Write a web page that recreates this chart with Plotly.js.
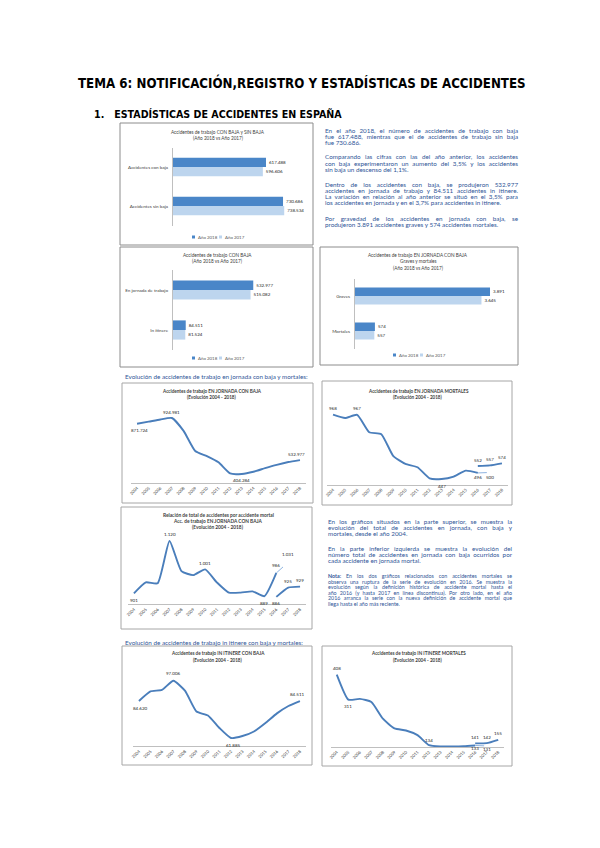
<!DOCTYPE html>
<html><head><meta charset="utf-8">
<script src="https://cdn.plot.ly/plotly-3.0.1.min.js"></script>
<style>html,body{margin:0;padding:0;background:#fff}</style>
</head><body><div id="chart" style="width:600px;height:848px"></div>
<script>
// ---------- DATA ----------
const years = ['2004','2005','2006','2007','2008','2009','2010','2011','2012','2013','2014','2015','2016','2017','2018'];
const yearsOld = ['2004','2005','2006','2007','2008','2009','2010','2011','2012','2013','2014','2015','2016'];
const yearsDash = ['2016','2017'];
const yearsNew = ['2016','2017','2018'];
const seriesNames = ['Año 2018','Año 2017'];

const cat1 = ['Accidentes con baja','Accidentes sin baja'];
const total2018 = [617488, 730686];
const total2017 = [596606, 738534];

const cat2 = ['En jornada de trabajo','In itinere'];
const conBaja2018 = [532977, 84511];
const conBaja2017 = [515082, 81524];

const cat3 = ['Graves','Mortales'];
const gravedad2018 = [3891, 574];
const gravedad2017 = [3645, 557];

const jornadaBaja = [871724, 890872, 911561, 924981, 804959, 617440, 569523, 512584, 408537, 404284, 424625, 458023, 489065, 515082, 532977];
const jornadaMort = [968, 941, 967, 826, 810, 632, 569, 542, 452, 447, 467, 515, 496];
const jornadaMortDash = [496, 500];
const jornadaMortNueva = [552, 557, 574];
const ratio = [901, 947, 943, 1120, 994, 977, 1001, 946, 904, 904, 909, 889, 986];
const ratioDash = [986, 1031];
const ratioNueva = [886, 925, 929];
const itinereBaja = [84620, 90500, 91400, 97006, 90900, 78100, 75700, 68000, 61885, 63100, 65900, 71100, 77000, 81524, 84511];
const itinereMort = [408, 311, 314, 302, 237, 199, 191, 173, 134, 129, 129, 130, 133];
const itinereMortDash = [133, 131];
const itinereMortNueva = [141, 142, 155];

// ---------- STYLE / HELPERS ----------
const W = 600, H = 848;
const px = v => v / W, py = v => 1 - v / H;
const C18 = '#4a86c8', C17 = '#bdd5ee', CL = '#4a7ebb', CD = '#8fb4e0';
const TXT = '#2f5597';
const FONT = 'Lato, "Open Sans", sans-serif';
const fmt = v => String(v).replace(/\B(?=(\d{3})+(?!\d))/g, '.');

const layout = {
  width: W, height: H, margin: {l:0, r:0, t:0, b:0},
  paper_bgcolor: '#ffffff', plot_bgcolor: 'rgba(0,0,0,0)',
  showlegend: false, separators: ',.', barmode: 'group', bargap: 0.52, bargroupgap: 0,
  font: {family: FONT, color: '#404040'},
  shapes: [], annotations: []
};
const traces = [];
const justify = {};   // plain line text -> target width in px

function note(x, y, text, size, opts) {
  layout.annotations.push(Object.assign({xref:'paper', yref:'paper', x: px(x), y: py(y), text: text,
    showarrow:false, xanchor:'center', yanchor:'middle', font:{size:size, family:FONT, color:'#404040'}}, opts || {}));
}
function box(x0, y0, x1, y1, col) {
  layout.shapes.push({type:'rect', xref:'paper', yref:'paper', x0:px(x0), x1:px(x1), y0:py(y1), y1:py(y0),
    line:{color: col || '#a6a6a6', width:1}, fillcolor:'rgba(0,0,0,0)', layer:'below'});
}
function legendRow(x, y) {
  const items = [[C18, seriesNames[0]], [C17, seriesNames[1]]];
  let cx = x;
  items.forEach(([c, t]) => {
    layout.shapes.push({type:'rect', xref:'paper', yref:'paper', x0:px(cx), x1:px(cx+3), y0:py(y+1.5), y1:py(y-1.5), line:{width:0}, fillcolor:c});
    note(cx + 4, y, t, 4.4, {xanchor:'left', font:{size:4.4, family:FONT, color:'#595959'}});
    cx += 27;
  });
}
function paragraph(lines, x, y0, step, size, width) {
  lines.forEach((t, i) => {
    note(x, y0 + i * step, t, size, {xanchor:'left', align:'left', font:{size:size, family:FONT, color:TXT}});
    if (i < lines.length - 1) justify[t.replace(/<[^>]+>/g, '')] = width;
  });
}
function barChart(n, cats, v18, v17, xL, xR, yT, yB, xmax) {
  const xa = n === 1 ? 'x' : 'x' + n, ya = n === 1 ? 'y' : 'y' + n;
  const xk = n === 1 ? 'xaxis' : 'xaxis' + n, yk = n === 1 ? 'yaxis' : 'yaxis' + n;
  layout[xk] = {domain:[px(xL), px(xR)], range:[0, xmax], visible:false, anchor:ya, fixedrange:true};
  layout[yk] = {domain:[py(yB), py(yT)], type:'category', autorange:'reversed', showline:true, linecolor:'#bfbfbf', linewidth:1,
    ticks:'', showgrid:false, zeroline:false, tickfont:{size:4.6, color:'#404040', family:FONT}, ticklabelstandoff:3, anchor:xa, fixedrange:true};
  [[v18, C18, seriesNames[0]], [v17, C17, seriesNames[1]]].forEach(([vals, col, nm]) => {
    traces.push({type:'bar', orientation:'h', x: vals, y: cats, name: nm, xaxis: xa, yaxis: ya,
      marker:{color: col}, texttemplate:'%{x:,.0f}', textposition:'outside', constraintext:'none', cliponaxis:false,
      textfont:{size:4.5, color:'#262626', family:FONT}, hoverinfo:'skip'});
  });
}
function lineAxes(n, xL, xR, yT, yB, ymin, ymax) {
  layout['xaxis'+n] = {domain:[px(xL), px(xR)], type:'category', range:[-0.5, 14.5], showline:true, linecolor:'#bfbfbf', linewidth:1,
    ticks:'', tickangle:-45, tickfont:{size:4.2, color:'#404040', family:FONT}, showgrid:false, zeroline:false, anchor:'y'+n, fixedrange:true};
  layout['yaxis'+n] = {domain:[py(yB), py(yT)], range:[ymin, ymax], visible:false, anchor:'x'+n, fixedrange:true};
}
function line(n, xs, ys, dashed) {
  traces.push({type:'scatter', mode:'lines', x: xs, y: ys, xaxis:'x'+n, yaxis:'y'+n, cliponaxis:false,
    line: dashed ? {color: CD, width: 1, dash:'dash'} : {color: CL, width: 1.9, shape:'spline', smoothing:0.5}, hoverinfo:'skip'});
}
// data label: category given by its year string, placed by its index on the category axis
function dl(n, year, value, shift, dx) {
  layout.annotations.push({xref:'x'+n, yref:'y'+n, x: years.indexOf(year), y: value, text: fmt(value), showarrow:false,
    yshift: shift, xshift: dx || 0, font:{size:4.5, color:'#262626', family:FONT}});
}

// ---------- PAGE HEADINGS ----------
const NARROW = '"Liberation Sans Narrow", "DejaVu Sans Condensed", "Arial Narrow", sans-serif';
note(302, 82, '<b>TEMA 6: NOTIFICACIÓN,REGISTRO Y ESTADÍSTICAS DE ACCIDENTES</b>', 13.2, {font:{size:13.2, family:NARROW, color:'#000'}});
note(92, 114, '<b>1.   ESTADÍSTICAS DE ACCIDENTES EN ESPAÑA</b>', 10.6, {xanchor:'left', font:{size:10.6, family:NARROW, color:'#000'}});

// ---------- CHART 1 ----------
box(120, 123, 313, 245, '#8c8c8c');
note(218, 131.5, 'Accidentes de trabajo CON BAJA y SIN BAJA', 4.7);
note(218, 137.5, '(Año 2018 vs Año 2017)', 4.7);
barChart(1, cat1, total2018, total2017, 173, 301, 147.5, 225.5, 850000);
legendRow(192, 237);

// ---------- TEXT BLOCK 1 ----------
paragraph(['En el año 2018, el número de accidentes de trabajo con baja',
  'fue 617.488, mientras que el de accidentes de trabajo sin baja',
  'fue 730.686.'], 323, 130, 6.1, 6.3, 193);
paragraph(['Comparando las cifras con las del año anterior, los accidentes',
  'con baja experimentaron un aumento del 3,5% y los accidentes',
  'sin baja un descenso del 1,1%.'], 323, 157, 6.1, 6.3, 193);
paragraph(['Dentro de los accidentes con baja, se produjeron 532.977',
  'accidentes en jornada de trabajo y 84.511 accidentes in itinere.',
  'La variación en relación al año anterior se situó en el 3,5% para',
  'los accidentes en jornada y en el 3,7% para accidentes in itinere.'], 323, 184, 6.1, 6.3, 193);
paragraph(['Por gravedad de los accidentes en jornada con baja, se',
  'produjeron 3.891 accidentes graves y 574 accidentes mortales.'], 323, 218.5, 6.1, 6.3, 193);

// ---------- CHART 2 ----------
box(120, 247, 313, 367, '#8c8c8c');
note(217, 255, 'Accidentes de trabajo CON BAJA', 4.7);
note(217, 261, '(Año 2018 vs Año 2017)', 4.7);
barChart(2, cat2, conBaja2018, conBaja2017, 173, 301, 270, 350, 850000);
legendRow(192, 358);

// ---------- CHART 3 ----------
box(320, 247, 518, 365, '#8c8c8c');
note(418, 255, 'Accidentes de trabajo EN JORNADA CON BAJA', 4.7);
note(418, 261.5, 'Graves y mortales', 4.7);
note(418, 268, '(Año 2018 vs Año 2017)', 4.7);
barChart(3, cat3, gravedad2018, gravedad2017, 355, 505, 278.5, 348.5, 4323);
legendRow(393, 355);

// ---------- HEADING 2 ----------
note(123, 376, 'Evolución de accidentes de trabajo en jornada con baja y mortales:', 6.3, {xanchor:'left', font:{size:6.3, family:FONT, color:TXT}});

// ---------- CHART 4 ----------
box(122, 383, 313, 503);
note(212, 391, '<b>Accidentes de trabajo EN JORNADA CON BAJA</b>', 4.6);
note(212, 397, '<b>(Evolución 2004 - 2018)</b>', 4.6);
lineAxes(4, 131.2, 305.8, 405, 483, 320000, 1046000);
line(4, years, jornadaBaja);
dl(4, '2004', jornadaBaja[0], -7, 2);
dl(4, '2007', jornadaBaja[3], 6);
dl(4, '2013', jornadaBaja[9], -7);
dl(4, '2018', jornadaBaja[14], 6, -3);

// ---------- CHART 5 ----------
box(322, 381, 512, 505);
note(418, 391, '<b>Accidentes de trabajo EN JORNADA MORTALES</b>', 4.6);
note(418, 397, '<b>(Evolución 2004 - 2018)</b>', 4.6);
lineAxes(5, 327, 508, 398.4, 484.8, 400, 1100);
line(5, yearsOld, jornadaMort);
line(5, yearsDash, jornadaMortDash, true);
line(5, yearsNew, jornadaMortNueva);
dl(5, '2004', jornadaMort[0], 6);
dl(5, '2006', jornadaMort[2], 6);
dl(5, '2013', jornadaMort[9], -7);
dl(5, '2016', jornadaMortDash[0], -5);
dl(5, '2017', jornadaMortDash[1], -5);
dl(5, '2016', jornadaMortNueva[0], 6);
dl(5, '2017', jornadaMortNueva[1], 6);
dl(5, '2018', jornadaMortNueva[2], 6);

// ---------- CHART 6 ----------
box(121, 507, 312, 629);
note(218, 515, '<b>Relación de total de accidentes por accidente mortal</b>', 4.8);
note(218, 521, '<b>Acc. de trabajo EN JORNADA CON BAJA</b>', 4.8);
note(218, 527, '<b>(Evolución 2004 - 2018)</b>', 4.8);
lineAxes(6, 128, 306, 529, 604.3, 855, 1170);
line(6, yearsOld, ratio);
line(6, yearsDash, ratioDash, true);
line(6, yearsNew, ratioNueva);
dl(6, '2004', ratio[0], -7);
dl(6, '2007', ratio[3], 6);
dl(6, '2010', ratio[6], 6);
dl(6, '2015', ratio[11], -7);
dl(6, '2016', ratio[12], 7);
dl(6, '2017', ratioDash[1], 8);
dl(6, '2016', ratioNueva[0], -7);
dl(6, '2017', ratioNueva[1], 6);
dl(6, '2018', ratioNueva[2], 6);

// ---------- TEXT BLOCK 2 ----------
paragraph(['En los gráficos situados en la parte superior, se muestra la',
  'evolución del total de accidentes en jornada, con baja y',
  'mortales, desde el año 2004.'], 326, 521, 6.1, 6.3, 184);
paragraph(['En la parte inferior izquierda se muestra la evolución del',
  'número total de accidentes en jornada con baja ocurridos por',
  'cada accidente en jornada mortal.'], 326, 548, 6.1, 6.3, 184);
paragraph(['<b>Nota:</b> En los dos gráficos relacionados con accidentes mortales se',
  'observa una ruptura de la serie de evolución en 2016. Se muestra la',
  'evolución según la definición histórica de accidente mortal hasta el',
  'año 2016 (y hasta 2017 en línea discontinua). Por otro lado, en el año',
  '2016 arranca la serie con la nueva definición de accidente mortal que',
  'llega hasta el año más reciente.'], 326, 576, 5.6, 5.3, 184);

// ---------- HEADING 3 ----------
note(123, 642, 'Evolución de accidentes de trabajo in itinere con baja y mortales:', 6.3, {xanchor:'left', font:{size:6.3, family:FONT, color:TXT}});

// ---------- CHART 7 ----------
box(122, 646, 312, 765);
note(218, 653, '<b>Accidentes de trabajo IN ITINERE CON BAJA</b>', 4.6);
note(218, 660, '<b>(Evolución 2004 - 2018)</b>', 4.6);
lineAxes(7, 133.2, 305.7, 670, 746.3, 56800, 103600);
line(7, years, itinereBaja);
dl(7, '2004', itinereBaja[0], -8, 2);
dl(7, '2007', itinereBaja[3], 7);
dl(7, '2012', itinereBaja[8], -7, 3);
dl(7, '2018', itinereBaja[14], 7, -2);

// ---------- CHART 8 ----------
box(322, 646, 512, 766);
note(418, 653, '<b>Accidentes de trabajo IN ITINERE MORTALES</b>', 4.6);
note(418, 660, '<b>(Evolución 2004 - 2018)</b>', 4.6);
lineAxes(8, 331, 504, 668, 747, 127, 434);
line(8, yearsOld, itinereMort);
line(8, yearsDash, itinereMortDash, true);
line(8, yearsNew, itinereMortNueva);
dl(8, '2004', itinereMort[0], 6);
dl(8, '2005', itinereMort[1], -7);
dl(8, '2012', itinereMort[8], 5);
dl(8, '2016', itinereMortNueva[0], 6);
dl(8, '2017', itinereMortNueva[1], 6);
dl(8, '2018', itinereMortNueva[2], 6);
dl(8, '2016', itinereMortDash[0], -3.5);
dl(8, '2017', itinereMortDash[1], -3.5);

Plotly.newPlot('chart', traces, layout, {staticPlot:true, displayModeBar:false}).then(() => {
  // justify full lines of the body paragraphs by widening word spacing
  document.querySelectorAll('.annotation-text').forEach(el => {
    const t = el.textContent;
    if (!(t in justify)) return;
    const spaces = (t.match(/ /g) || []).length;
    const natural = el.getComputedTextLength();
    if (spaces > 0) el.style.wordSpacing = ((justify[t] - natural) / spaces).toFixed(2) + 'px';
  });
});
</script>
</body></html>
